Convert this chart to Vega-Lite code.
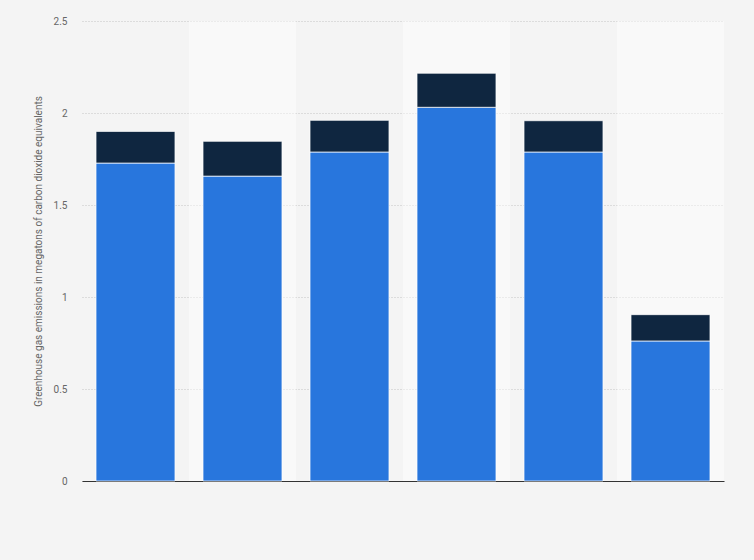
{
  "$schema": "https://vega.github.io/schema/vega-lite/v6.json",
  "width": 642,
  "height": 460,
  "autosize": "none",
  "padding": {"left": 82, "top": 21, "right": 30, "bottom": 79},
  "background": "#f4f4f4",
  "config": {
    "view": {"stroke": null},
    "font": "Roboto"
  },
  "datasets": {
    "bands": [
      {"cat": "1"}, {"cat": "2"}, {"cat": "3"}, {"cat": "4"}, {"cat": "5"}, {"cat": "6"}
    ],
    "bars": [
      {"cat": "1", "series": "Part A", "order": 1, "value": 1.728},
      {"cat": "1", "series": "Part B", "order": 2, "value": 0.172},
      {"cat": "2", "series": "Part A", "order": 1, "value": 1.657},
      {"cat": "2", "series": "Part B", "order": 2, "value": 0.189},
      {"cat": "3", "series": "Part A", "order": 1, "value": 1.788},
      {"cat": "3", "series": "Part B", "order": 2, "value": 0.172},
      {"cat": "4", "series": "Part A", "order": 1, "value": 2.031},
      {"cat": "4", "series": "Part B", "order": 2, "value": 0.185},
      {"cat": "5", "series": "Part A", "order": 1, "value": 1.788},
      {"cat": "5", "series": "Part B", "order": 2, "value": 0.170},
      {"cat": "6", "series": "Part A", "order": 1, "value": 0.761},
      {"cat": "6", "series": "Part B", "order": 2, "value": 0.143}
    ]
  },
  "layer": [
    {
      "data": {"name": "bands"},
      "mark": {"type": "rect"},
      "encoding": {
        "x": {"field": "cat", "type": "nominal", "sort": null,
              "scale": {"paddingInner": 0, "paddingOuter": 0},
              "axis": null},
        "y": {"datum": 0, "type": "quantitative"},
        "y2": {"datum": 2.5},
        "color": {"value": "#ffffff"},
        "opacity": {
          "condition": {"test": "indexof(['2','4','6'], datum.cat) >= 0", "value": 0.42},
          "value": 0
        }
      }
    },
    {
      "data": {"name": "bars"},
      "mark": {"type": "bar", "stroke": "#ffffff", "strokeWidth": 1, "strokeOpacity": 0.7},
      "encoding": {
        "x": {"field": "cat", "type": "nominal", "sort": null,
              "scale": {"paddingInner": 0.262, "paddingOuter": 0.131},
              "axis": {"labels": false, "ticks": false, "title": null, "domain": true,
                       "domainColor": "#333333", "domainWidth": 1, "grid": false}},
        "y": {"field": "value", "type": "quantitative", "stack": "zero",
              "scale": {"domain": [0, 2.5], "nice": false},
              "axis": {"values": [0, 0.5, 1, 1.5, 2, 2.5], "format": "~g",
                       "title": "Greenhouse gas emissions in megatons of carbon dioxide equivalents",
                       "titleFontSize": 10, "titleFontWeight": "normal", "titleColor": "#666666",
                       "titlePadding": 10,
                       "labelFontSize": 10, "labelColor": "#666666", "labelPadding": 15,
                       "domain": false, "ticks": false,
                       "grid": true, "gridColor": "#c4c4c4", "gridDash": [1, 2], "gridWidth": 1}},
        "color": {"field": "series", "type": "nominal",
                  "scale": {"domain": ["Part A", "Part B"], "range": ["#2876dd", "#0f2640"]},
                  "legend": null},
        "order": {"field": "order", "type": "quantitative"}
      }
    }
  ],
  "resolve": {"scale": {"x": "independent"}}
}
